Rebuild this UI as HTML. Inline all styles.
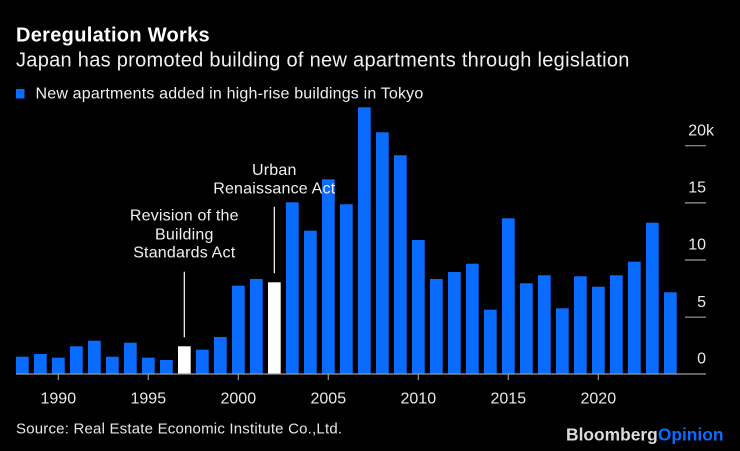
<!DOCTYPE html>
<html><head><meta charset="utf-8"><style>
html,body{margin:0;padding:0;background:#000;}
svg{display:block;}
text{font-family:"Liberation Sans",Arial,sans-serif;}
</style></head><body>
<svg width="740" height="451" viewBox="0 0 740 451" xmlns="http://www.w3.org/2000/svg">
<rect width="740" height="451" fill="#000"/>
<text x="16" y="41.7" font-size="20" font-weight="bold" fill="#fff" letter-spacing="0.3">Deregulation Works</text>
<text x="16" y="66.7" font-size="20" fill="#f0f0f0" letter-spacing="0.29">Japan has promoted building of new apartments through legislation</text>
<rect x="16" y="89" width="8.5" height="9.5" fill="#0a6cff"/>
<text x="35.5" y="98.5" font-size="16" fill="#f0f0f0" letter-spacing="0.18">New apartments added in high-rise buildings in Tokyo</text>

<g stroke="#9a9a9a" stroke-width="1.2">
<line x1="685" x2="706" y1="145.7" y2="145.7"/>
<line x1="685" x2="706" y1="202.9" y2="202.9"/>
<line x1="685" x2="706" y1="260" y2="260"/>
<line x1="685" x2="706" y1="317.2" y2="317.2"/>
</g>
<g font-size="16" fill="#eaeaea" text-anchor="end">
<text x="706" y="135.4">20</text>
<text x="706" y="192.6">15</text>
<text x="706" y="249.7">10</text>
<text x="706" y="306.9">5</text>
<text x="706" y="363.7">0</text>
</g>
<text x="706" y="135.4" font-size="16" fill="#eaeaea">k</text>

<g fill="#0a6cff">
<rect x="16" y="356.7" width="12.7" height="17.3"/>
<rect x="34" y="354" width="12.7" height="20"/>
<rect x="52" y="357.7" width="12.7" height="16.3"/>
<rect x="70" y="346.3" width="12.7" height="27.7"/>
<rect x="88" y="340.7" width="12.7" height="33.3"/>
<rect x="106" y="356.7" width="12.7" height="17.3"/>
<rect x="124" y="342.7" width="12.7" height="31.3"/>
<rect x="142" y="357.7" width="12.7" height="16.3"/>
<rect x="160" y="360" width="12.7" height="14"/>
<rect x="196" y="349.7" width="12.7" height="24.3"/>
<rect x="214" y="337" width="12.7" height="37"/>
<rect x="232" y="285.7" width="12.7" height="88.3"/>
<rect x="250" y="279" width="12.7" height="95"/>
<rect x="286" y="202.3" width="12.7" height="171.7"/>
<rect x="304" y="230.7" width="12.7" height="143.3"/>
<rect x="322" y="179.3" width="12.7" height="194.7"/>
<rect x="340" y="204.3" width="12.7" height="169.7"/>
<rect x="358" y="107.3" width="12.7" height="266.7"/>
<rect x="376" y="132.3" width="12.7" height="241.7"/>
<rect x="394" y="155.3" width="12.7" height="218.7"/>
<rect x="412" y="240" width="12.7" height="134"/>
<rect x="430" y="279" width="12.7" height="95"/>
<rect x="448" y="272" width="12.7" height="102"/>
<rect x="466" y="263.7" width="12.7" height="110.3"/>
<rect x="484" y="309.7" width="12.7" height="64.3"/>
<rect x="502" y="218.3" width="12.7" height="155.7"/>
<rect x="520" y="283.3" width="12.7" height="90.7"/>
<rect x="538" y="275.3" width="12.7" height="98.7"/>
<rect x="556" y="308.3" width="12.7" height="65.7"/>
<rect x="574" y="276.3" width="12.7" height="97.7"/>
<rect x="592" y="286.7" width="12.7" height="87.3"/>
<rect x="610" y="275.3" width="12.7" height="98.7"/>
<rect x="628" y="261.7" width="12.7" height="112.3"/>
<rect x="646" y="222.7" width="12.7" height="151.3"/>
<rect x="664" y="292.3" width="12.7" height="81.7"/>
</g>
<g fill="#fff">
<rect x="178" y="346.3" width="12.7" height="27.7"/>
<rect x="268" y="282.3" width="12.7" height="91.7"/>
</g>

<line x1="184.3" x2="184.3" y1="271.7" y2="337.3" stroke="#fff" stroke-width="1.2"/>
<line x1="274.3" x2="274.3" y1="206.7" y2="273.3" stroke="#fff" stroke-width="1.2"/>
<g font-size="16" fill="#f0f0f0" text-anchor="middle" letter-spacing="0.2">
<text x="184.3" y="220.7">Revision of the</text>
<text x="184.3" y="239.3">Building</text>
<text x="184.3" y="257.3">Standards Act</text>
<text x="274.3" y="175">Urban</text>
<text x="274.3" y="193.3">Renaissance Act</text>
</g>

<line x1="16" x2="706" y1="374" y2="374" stroke="#9a9a9a" stroke-width="1.3"/>
<g stroke="#9a9a9a" stroke-width="1.2">
<line x1="58.3" x2="58.3" y1="374" y2="380"/>
<line x1="148.3" x2="148.3" y1="374" y2="380"/>
<line x1="238.3" x2="238.3" y1="374" y2="380"/>
<line x1="328.3" x2="328.3" y1="374" y2="380"/>
<line x1="418.3" x2="418.3" y1="374" y2="380"/>
<line x1="508.3" x2="508.3" y1="374" y2="380"/>
<line x1="598.3" x2="598.3" y1="374" y2="380"/>
</g>
<g font-size="16" fill="#eaeaea" text-anchor="middle">
<text x="58.3" y="403.3">1990</text>
<text x="148.3" y="403.3">1995</text>
<text x="238.3" y="403.3">2000</text>
<text x="328.3" y="403.3">2005</text>
<text x="418.3" y="403.3">2010</text>
<text x="508.3" y="403.3">2015</text>
<text x="598.3" y="403.3">2020</text>
</g>

<text x="16" y="433.3" font-size="15" fill="#e6e6e6" letter-spacing="0.2">Source: Real Estate Economic Institute Co.,Ltd.</text>
<text x="723.5" y="440.7" font-size="17.4" font-weight="bold" text-anchor="end"><tspan fill="#dcdcdc">Bloomberg</tspan><tspan fill="#0a6cff">Opinion</tspan></text>
</svg>
</body></html>
